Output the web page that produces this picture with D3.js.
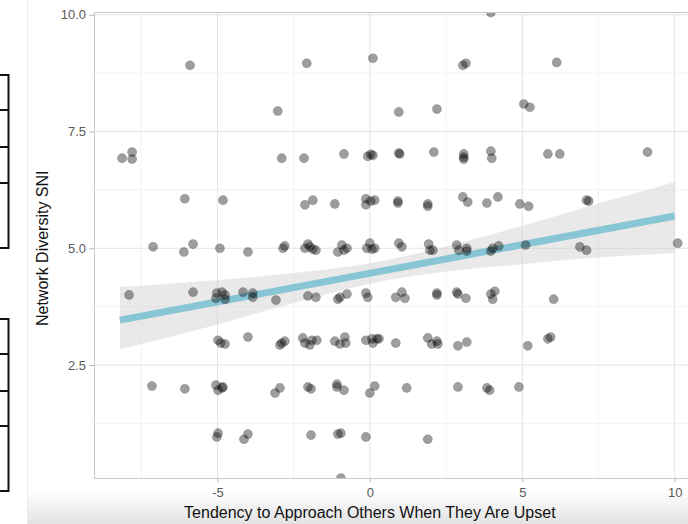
<!DOCTYPE html>
<html>
<head>
<meta charset="utf-8">
<script src="https://cdn.jsdelivr.net/npm/d3@7"></script>
<style>
body{margin:0;background:#fff;}
svg{display:block;font-family:"Liberation Sans",Arial,sans-serif;}
</style>
</head>
<body>
<script>
// jittered points, one array per SNI level
var sni0 = [[-0.95,0.08]];
var sni1 = [[-4.98,1.04],[-5.02,0.96],[-4.13,0.91],[-4.00,1.02],[-1.93,1.00],[-1.05,1.02],[-0.95,1.04],[-0.13,0.96],[1.90,0.91]];
var sni2 = [[-7.15,2.05],[-6.07,1.99],[-5.05,2.07],[-4.98,1.96],[-4.85,2.01],[-4.82,2.03],[-3.11,1.90],[-2.95,2.01],
  [-2.03,2.03],[-1.93,1.99],[-1.08,2.09],[-1.08,2.03],[-0.85,1.96],[0.00,1.90],[0.16,2.05],[1.21,2.01],[2.89,2.03],
  [3.84,2.01],[3.93,1.96],[4.89,2.03]];
var sni3 = [[-4.98,3.03],[-4.89,2.97],[-4.75,2.95],[-4.00,3.10],[-2.95,2.93],[-2.89,2.97],[-2.79,3.01],[-2.20,3.08],
  [-2.13,2.97],[-1.97,2.93],[-1.90,3.03],[-1.74,3.03],[-1.15,3.01],[-0.98,2.95],[-0.82,3.10],[-0.79,2.97],[-0.13,3.03],
  [0.07,3.06],[0.10,2.97],[0.23,3.06],[0.30,3.06],[0.85,2.97],[1.90,3.08],[2.03,2.95],[2.20,3.01],[2.23,2.95],
  [2.89,2.91],[3.18,2.99],[5.18,2.91],[5.84,3.06],[5.93,3.10]];
var sni4 = [[-7.90,4.00],[-5.80,4.06],[-5.02,4.04],[-4.85,4.06],[-4.75,4.00],[-5.05,3.93],[-4.75,3.91],[-4.16,4.06],
  [-3.84,4.04],[-3.84,3.95],[-3.08,3.89],[-2.03,3.98],[-1.77,3.95],[-1.05,3.91],[-0.98,3.95],[-0.75,4.02],[-0.13,4.04],
  [-0.07,3.95],[0.85,3.95],[1.05,4.06],[1.15,3.93],[2.20,4.04],[2.20,4.00],[2.85,4.06],[2.89,4.02],[3.15,3.93],
  [3.97,4.02],[4.10,4.08],[4.03,3.91],[6.03,3.91]];
var sni5 = [[-7.11,5.03],[-6.10,4.92],[-5.80,5.09],[-4.92,5.00],[-4.00,4.92],[-2.85,5.00],[-2.79,5.05],[-2.13,5.00],
  [-1.97,5.03],[-1.87,4.98],[-2.03,5.09],[-1.77,4.96],[-1.05,4.92],[-0.92,5.07],[-0.85,4.96],[-0.75,5.00],[-0.10,5.00],
  [0.00,5.11],[0.07,4.98],[0.16,5.00],[0.95,5.11],[1.05,5.03],[1.93,5.09],[1.97,4.96],[2.07,4.96],[2.85,5.07],
  [2.92,4.96],[3.18,5.00],[3.18,4.94],[3.97,4.94],[4.03,5.00],[4.23,5.05],[5.11,5.07],[6.89,5.03],[7.11,4.96],[10.10,5.11]];
var sni6 = [[-6.07,6.06],[-4.82,6.03],[-2.13,5.93],[-1.87,6.03],[-1.15,5.95],[-0.13,6.06],[-0.13,5.93],[0.03,6.01],
  [0.16,6.03],[0.92,6.01],[0.92,5.97],[1.90,5.95],[1.90,5.90],[3.05,6.10],[3.21,5.99],[3.84,5.97],[4.20,6.10],
  [4.92,5.95],[5.21,5.90],[7.11,6.03],[7.18,6.01]];
var sni7 = [[-8.13,6.93],[-7.80,7.06],[-7.80,6.91],[-2.89,6.93],[-2.16,6.93],[-0.85,7.02],[-0.07,6.97],[0.10,6.99],
  [0.03,7.01],[0.95,7.04],[0.98,7.02],[2.10,7.06],[3.08,7.02],[3.08,6.95],[3.08,6.91],[3.97,7.08],[4.00,6.93],
  [5.84,7.02],[6.23,7.02],[9.11,7.06]];
var sni8 = [[-3.02,7.94],[0.95,7.92],[2.20,7.98],[5.05,8.09],[5.25,8.02]];
var sni9 = [[-5.90,8.92],[-2.07,8.96],[0.10,9.07],[3.05,8.92],[3.15,8.96],[6.13,8.98]];
var sni10 = [[3.97,10.05]];

var xTicks = [-5, 0, 5, 10];
var xMinor = [-7.5, -2.5, 2.5, 7.5];
var yTicks = [2.5, 5, 7.5, 10];
var yMinor = [1.25, 3.75, 6.25, 8.75];

// lm fit and its confidence band
var fitX = [-8.2, 10];
var fitY = [3.46, 5.69];
var ciX  = [-8.2, -5, -2.5, 0, 2.5, 5, 7.5, 10];
var ciLo = [2.84, 3.37, 3.83, 4.24, 4.50, 4.66, 4.80, 4.90];
var ciHi = [4.17, 4.32, 4.47, 4.68, 5.04, 5.48, 5.96, 6.42];

var points = [].concat(sni0, sni1, sni2, sni3, sni4, sni5, sni6, sni7, sni8, sni9, sni10);

var W = 688, H = 524;
var panel = {left:94, top:12, right:696, bottom:478};

var svg = d3.select("body").append("svg")
    .attr("width", W)
    .attr("height", H);

var defs = svg.append("defs");
var grad = defs.append("linearGradient")
    .attr("id", "shade").attr("x1", 0).attr("y1", 0).attr("x2", 0).attr("y2", 1);
grad.append("stop").attr("offset", "0%").attr("stop-color", "#ffffff");
grad.append("stop").attr("offset", "100%").attr("stop-color", "#e3e3e3");
defs.append("clipPath").attr("id", "clip")
  .append("rect")
    .attr("x", panel.left).attr("y", panel.top)
    .attr("width", panel.right - panel.left).attr("height", panel.bottom - panel.top);

// bottom shading and page edge
svg.append("rect")
    .attr("x", 27).attr("y", 490).attr("width", W - 27).attr("height", H - 490)
    .attr("fill", "url(#shade)");
svg.append("line")
    .attr("x1", 27.5).attr("x2", 27.5).attr("y1", 0).attr("y2", H)
    .attr("stroke", "#ececec");

// table fragments on the far left
var boxes = [[75, 110, 147, 183, 248], [319, 354, 391, 426, 491]];
boxes.forEach(function(b){
  svg.append("rect")
    .attr("x", -10).attr("y", b[0]).attr("width", 18.5).attr("height", b[4] - b[0])
    .attr("fill", "none").attr("stroke", "#111").attr("stroke-width", 2);
  b.slice(1, 4).forEach(function(yy){
    svg.append("line")
      .attr("x1", -10).attr("x2", 8.5).attr("y1", yy).attr("y2", yy)
      .attr("stroke", "#111").attr("stroke-width", 2);
  });
});

var xScale = d3.scaleLinear().domain([-9.05, 10.7]).range([panel.left, panel.right]);
var yScale = d3.scaleLinear().domain([0.08, 10.06]).range([panel.bottom, panel.top]);

var plot = svg.append("g").attr("clip-path", "url(#clip)");

// grid
plot.selectAll(".xminor").data(xMinor).enter().append("line")
    .attr("x1", function(d){return xScale(d);}).attr("x2", function(d){return xScale(d);})
    .attr("y1", panel.top).attr("y2", panel.bottom)
    .attr("stroke", "#f0f0f0").attr("stroke-width", 0.8);
plot.selectAll(".yminor").data(yMinor).enter().append("line")
    .attr("y1", function(d){return yScale(d);}).attr("y2", function(d){return yScale(d);})
    .attr("x1", panel.left).attr("x2", panel.right)
    .attr("stroke", "#f0f0f0").attr("stroke-width", 0.8);
plot.selectAll(".xmajor").data(xTicks).enter().append("line")
    .attr("x1", function(d){return xScale(d);}).attr("x2", function(d){return xScale(d);})
    .attr("y1", panel.top).attr("y2", panel.bottom)
    .attr("stroke", "#e4e4e4").attr("stroke-width", 1);
plot.selectAll(".ymajor").data(yTicks).enter().append("line")
    .attr("y1", function(d){return yScale(d);}).attr("y2", function(d){return yScale(d);})
    .attr("x1", panel.left).attr("x2", panel.right)
    .attr("stroke", "#e4e4e4").attr("stroke-width", 1);

// confidence band
var band = d3.area()
    .x(function(d){return xScale(d[0]);})
    .y0(function(d){return yScale(d[1]);})
    .y1(function(d){return yScale(d[2]);})
    .curve(d3.curveMonotoneX);
plot.append("path")
    .datum(ciX.map(function(v, i){return [v, ciLo[i], ciHi[i]];}))
    .attr("d", band)
    .attr("fill", "#cfcfcf").attr("fill-opacity", 0.45);

// fitted line
plot.append("path")
    .datum(fitX.map(function(v, i){return [v, fitY[i]];}))
    .attr("d", d3.line().x(function(d){return xScale(d[0]);}).y(function(d){return yScale(d[1]);}))
    .attr("fill", "none").attr("stroke", "#88c5d5").attr("stroke-width", 7);

// points
plot.selectAll("circle").data(points).enter().append("circle")
    .attr("cx", function(d){return xScale(d[0]);})
    .attr("cy", function(d){return yScale(d[1]);})
    .attr("r", 4.6)
    .attr("fill", "#000").attr("fill-opacity", 0.38)
    .attr("stroke", "#000").attr("stroke-opacity", 0.18).attr("stroke-width", 0.8);

// panel border
svg.append("rect")
    .attr("x", panel.left + 0.5).attr("y", panel.top + 0.5)
    .attr("width", panel.right - panel.left).attr("height", panel.bottom - panel.top)
    .attr("fill", "none").attr("stroke", "#c9c9c9").attr("stroke-width", 1);

// axes
var yAxis = d3.axisLeft(yScale).tickValues(yTicks).tickFormat(d3.format(".1f"))
    .tickSize(5).tickPadding(3);
var yAxisGroup = svg.append("g").attr("transform", "translate(" + panel.left + ",0)");
yAxis(yAxisGroup);

var xAxis = d3.axisBottom(xScale).tickValues(xTicks).tickFormat(function(d){return String(d);})
    .tickSize(4).tickPadding(6);
var xAxisGroup = svg.append("g").attr("transform", "translate(0," + panel.bottom + ")");
xAxis(xAxisGroup);

[xAxisGroup, yAxisGroup].forEach(function(g){
  g.select(".domain").remove();
  g.selectAll("line").attr("stroke", "#b8b8b8");
  g.selectAll("text").attr("fill", "#5a5a5a").style("font-size", "13px")
    .style("font-family", "'Liberation Sans', Arial, sans-serif");
});

svg.append("text")
    .attr("transform", "translate(" + (xScale(0)) + "," + 518 + ")")
    .style("text-anchor", "middle")
    .style("font-size", "16px")
    .attr("fill", "#111")
    .text("Tendency to Approach Others When They Are Upset");

svg.append("text")
    .attr("transform", "translate(48," + yScale(5) + ") rotate(-90)")
    .style("text-anchor", "middle")
    .style("font-size", "16px")
    .attr("fill", "#111")
    .text("Network Diversity SNI");
</script>
</body>
</html>
